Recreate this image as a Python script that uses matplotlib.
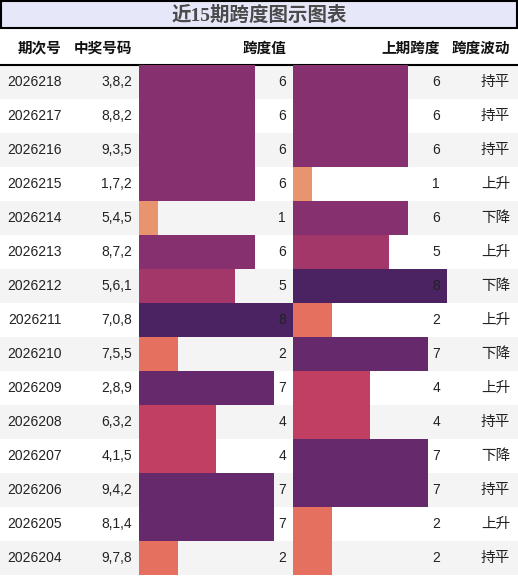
import matplotlib
matplotlib.use("Agg")
import matplotlib.pyplot as plt
from matplotlib.patches import Rectangle

plt.rcParams['font.family'] = ['Liberation Sans', 'Noto Sans CJK SC', 'DejaVu Sans']

title = "近15期跨度图示图表"
headers = ["期次号", "中奖号码", "跨度值", "上期跨度", "跨度波动"]
periods = ["2026218", "2026217", "2026216", "2026215", "2026214", "2026213", "2026212",
           "2026211", "2026210", "2026209", "2026208", "2026207", "2026206", "2026205", "2026204"]
numbers = ["3,8,2", "8,8,2", "9,3,5", "1,7,2", "5,4,5", "8,7,2", "5,6,1",
           "7,0,8", "7,5,5", "2,8,9", "6,3,2", "4,1,5", "9,4,2", "8,1,4", "9,7,8"]
span = [6, 6, 6, 6, 1, 6, 5, 8, 2, 7, 4, 4, 7, 7, 2]
prev_span = [6, 6, 6, 1, 6, 5, 8, 2, 7, 4, 4, 7, 7, 2, 2]
trend = ["持平", "持平", "持平", "上升", "下降", "上升", "下降",
         "上升", "下降", "上升", "持平", "下降", "持平", "上升", "持平"]

# colour per span value (style)
span_colors = {1: '#e8956f', 2: '#e6705f', 3: '#d85862', 4: '#c13f62', 5: '#a3376a',
               6: '#86306f', 7: '#66296c', 8: '#4b2262', 9: '#3a1c55', 0: '#edb081'}

W, H = 518, 576
fig = plt.figure(figsize=(W / 100, H / 100), dpi=100)
ax = fig.add_axes([0, 0, 1, 1])
ax.set_xlim(0, W)
ax.set_ylim(H, 0)
ax.axis('off')

# title box
ax.add_patch(Rectangle((1, 1), W - 2, 27, facecolor='#e6e8fa', edgecolor='black', lw=1.5))
ax.text(W / 2, 15, title, ha='center', va='center', fontsize=14, fontweight='bold',
        color='#4a4a4a', family=['Liberation Serif', 'Noto Sans CJK SC', 'DejaVu Sans'])

# header
hx = [62, 132, 286, 440, 510]
for x, h in zip(hx, headers):
    ax.text(x, 48.5, h, ha='right', va='center', fontsize=10.5, fontweight='bold', color='#111111')
ax.plot([0, W], [64.5, 64.5], color='black', lw=1.5)

top = 65
rh = 34
n = len(periods)
for i in range(n):
    y0 = top + i * rh
    if i % 2 == 0:
        ax.add_patch(Rectangle((0, y0), W, rh, facecolor='#f4f4f4', edgecolor='none', zorder=0))

x0a, x0b, x1b = 139, 293, 447
for left, vals in [(x0a, span), (x0b, prev_span)]:
    bax = fig.add_axes([left / W, 1 - (top + n * rh) / H, (x1b - x0b) / W, n * rh / H])
    bax.patch.set_alpha(0)
    bax.set_xlim(0, 8)
    bax.set_ylim(n - 0.5, -0.5)
    bax.axis('off')
    bax.barh(range(n), vals, height=1.0, color=[span_colors[v] for v in vals], lw=0)

# overlay for text on top of bars
tx = fig.add_axes([0, 0, 1, 1])
tx.set_xlim(0, W)
tx.set_ylim(H, 0)
tx.axis('off')
tx.patch.set_alpha(0)

for i in range(n):
    yc = top + i * rh + rh / 2
    tx.text(62, yc, periods[i], ha='right', va='center', fontsize=10, color='#222222')
    tx.text(132, yc, numbers[i], ha='right', va='center', fontsize=10, color='#222222')
    tx.text(286, yc, str(span[i]), ha='right', va='center', fontsize=10, color='#222222')
    tx.text(440, yc, str(prev_span[i]), ha='right', va='center', fontsize=10, color='#222222')
    tx.text(510, yc, trend[i], ha='right', va='center', fontsize=10.5, color='#222222')

fig.savefig("out.png", dpi=100)
